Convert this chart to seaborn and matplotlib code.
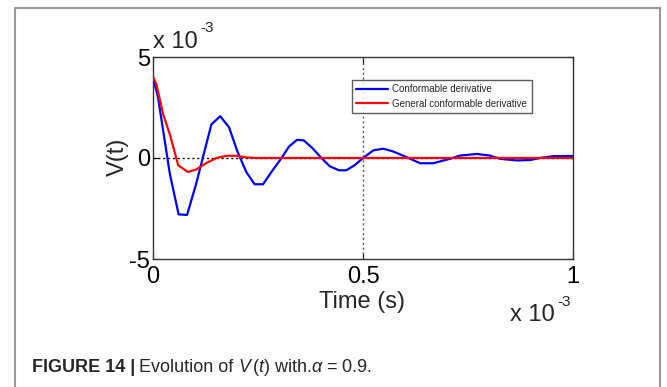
import matplotlib
matplotlib.use("Agg")
import matplotlib.pyplot as plt
import seaborn as sns
import pandas as pd
from matplotlib.patches import Rectangle
from matplotlib import font_manager

# time in units of 1e-3 s, voltage in units of 1e-3
t_conf = [0.0, 0.012, 0.04, 0.061, 0.081, 0.103, 0.121, 0.139, 0.160, 0.181, 0.200,
          0.222, 0.242, 0.262, 0.282, 0.306, 0.324, 0.343, 0.359, 0.381, 0.401,
          0.421, 0.443, 0.460, 0.480, 0.500, 0.525, 0.548, 0.571, 0.604, 0.636,
          0.667, 0.707, 0.731, 0.771, 0.802, 0.826, 0.866, 0.898, 0.921, 0.953, 1.0]
v_conf = [4.0, 3.0, -0.77, -2.79, -2.82, -1.26, 0.21, 1.66, 2.07, 1.52, 0.38,
          -0.69, -1.30, -1.30, -0.69, 0.0, 0.57, 0.90, 0.87, 0.46, 0.0,
          -0.41, -0.61, -0.61, -0.36, 0.0, 0.38, 0.46, 0.33, 0.04, -0.26,
          -0.26, -0.04, 0.12, 0.20, 0.12, -0.04, -0.12, -0.10, 0.0, 0.09, 0.10]
t_gen = [0.0, 0.008, 0.024, 0.041, 0.060, 0.083, 0.103, 0.127, 0.151, 0.175,
         0.198, 0.222, 0.246, 0.5, 1.0]
v_gen = [4.0, 3.66, 2.18, 1.11, -0.36, -0.69, -0.57, -0.25, 0.0, 0.11,
         0.11, 0.03, 0.0, 0.0, 0.0]
series_names = ["Conformable derivative", "General conformable derivative"]
x_ticks = [0, 0.5, 1]
x_tick_labels = ["0", "0.5", "1"]
y_ticks = [-5, 0, 5]
y_tick_labels = ["-5", "0", "5"]

sns.set_theme(style="white")
plt.rcParams['font.family'] = ['Liberation Sans', 'DejaVu Sans']
plt.rcParams['mathtext.fontset'] = 'custom'

installed = {f.name for f in font_manager.fontManager.ttflist}
cap_family = "Liberation Sans Narrow" if "Liberation Sans Narrow" in installed else "Liberation Sans"
plt.rcParams['mathtext.rm'] = cap_family
plt.rcParams['mathtext.it'] = cap_family + ':italic'

df = pd.concat([
    pd.DataFrame({"t": t_conf, "v": v_conf, "series": series_names[0]}),
    pd.DataFrame({"t": t_gen, "v": v_gen, "series": series_names[1]}),
])

W, H = 667, 387
fig = plt.figure(figsize=(W/100, H/100), dpi=100)
fig.patch.set_facecolor("white")
ax = fig.add_axes([153/W, 1-259/H, 420/W, 202/H])

ax.axhline(0, color="black", ls=(0, (1.5, 2)), lw=1.0, zorder=1)
ax.axvline(0.5, color="#555555", ls=(0, (1.5, 2)), lw=1.0, zorder=1)

sns.lineplot(data=df, x="t", y="v", hue="series", sort=False,
             palette=["#0000ff", "#ff0000"], linewidth=1.6, ax=ax, zorder=3,
             legend=True)

ax.set_xlim(0, 1)
ax.set_ylim(-5, 5)
ax.set_xticks(x_ticks)
ax.set_xticklabels(x_tick_labels)
ax.set_yticks(y_ticks)
ax.set_yticklabels(y_tick_labels)
ax.tick_params(direction="in", length=4, width=0.8, labelsize=17,
               top=True, right=True, bottom=True, left=True, colors="black")
ax.tick_params(axis="x", pad=5)
ax.tick_params(axis="y", pad=2)
for s in ax.spines.values():
    s.set_color("#333333")
    s.set_linewidth(1.0)
ax.set_xlabel("")
ax.set_ylabel("")

leg = ax.legend(loc="upper left", bbox_to_anchor=(199/420, 1-(79-56)/202),
                fontsize=7, frameon=True, fancybox=False, handlelength=3.3,
                borderpad=0.45, labelspacing=0.45, handletextpad=0.4,
                borderaxespad=0)
leg.get_frame().set_edgecolor("#333333")
leg.get_frame().set_linewidth(1.0)

# axis labels and multipliers
fig.text(362/W, 1-302/H, "Time (s)", ha="center", va="center", fontsize=17)
fig.text(118/W, 1-157/H, "V(t)", ha="center", va="center", fontsize=17, rotation=90)
fig.text(153/W, 1-42/H, "x 10", ha="left", va="center", fontsize=17)
fig.text(200/W, 1-28/H, "-3", ha="left", va="center", fontsize=11)
fig.text(510/W, 1-315/H, "x 10", ha="left", va="center", fontsize=17)
fig.text(557/W, 1-302/H, "-3", ha="left", va="center", fontsize=11)

# caption, placed piece by piece
renderer = fig.canvas.get_renderer()
pieces = [("FIGURE 14 |", "bold", 4), ("Evolution of", "normal", 4),
          (r"$V\,(t)$", "normal", 4), (r"with.$\alpha$ = 0.9.", "normal", 0)]
x = 32
for txt, wt, gap in pieces:
    tt = fig.text(x/W, 1-367/H, txt, ha="left", va="center", fontsize=13,
                  fontweight=wt, family=[cap_family, "DejaVu Sans"])
    bb = tt.get_window_extent(renderer)
    x = bb.x1 + gap

fig.add_artist(Rectangle((15/W, -0.05), 645/W, 1.05 - 8/H, transform=fig.transFigure,
                         fill=False, edgecolor="#999999", linewidth=1.5))

fig.savefig("out.png", dpi=100)
